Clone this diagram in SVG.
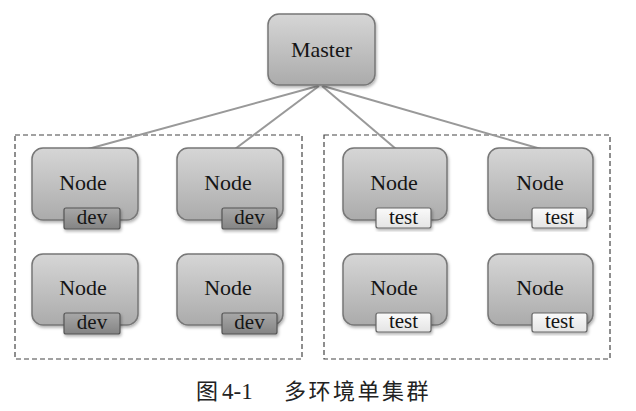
<svg xmlns="http://www.w3.org/2000/svg" width="636" height="411" viewBox="0 0 636 411">
  <defs>
    <linearGradient id="gBody" x1="0" y1="0" x2="0" y2="1">
      <stop offset="0" stop-color="#d6d6d6"/>
      <stop offset="1" stop-color="#ababab"/>
    </linearGradient>
    <linearGradient id="gDev" x1="0" y1="0" x2="0" y2="1">
      <stop offset="0" stop-color="#a8a8a8"/>
      <stop offset="1" stop-color="#848484"/>
    </linearGradient>
    <linearGradient id="gTest" x1="0" y1="0" x2="0" y2="1">
      <stop offset="0" stop-color="#fafafa"/>
      <stop offset="1" stop-color="#e4e4e4"/>
    </linearGradient>
    <filter id="shadow" x="-10%" y="-10%" width="130%" height="130%">
      <feDropShadow dx="1" dy="2" stdDeviation="1.5" flood-color="#000" flood-opacity="0.3"/>
    </filter>
  </defs>
  <style>
    .body { fill: url(#gBody); stroke: #777; stroke-width: 1.5; filter: url(#shadow); }
    .dev { fill: url(#gDev); stroke: #555; stroke-width: 1.2; filter: url(#shadow); }
    .test { fill: url(#gTest); stroke: #666; stroke-width: 1.2; filter: url(#shadow); }
    .lbl { font-family: 'Liberation Serif', 'DejaVu Serif', serif; font-size: 22px; fill: #151515; text-anchor: middle; }
    .tag { font-family: 'Liberation Serif', 'DejaVu Serif', serif; font-size: 21px; fill: #151515; text-anchor: middle; }
    .group { fill: none; stroke: #444; stroke-width: 1.2; stroke-dasharray: 5 3; }
    .conn { fill: none; stroke: #999; stroke-width: 2; }
    .cap { font-family: 'Liberation Serif', 'Noto Sans CJK SC', serif; font-size: 22px; fill: #222; }
  </style>

  <rect id="group-dev" class="group" x="15" y="135" width="287" height="224"/>
  <rect id="group-test" class="group" x="324" y="135" width="286" height="224"/>

  <g id="connectors">
    <line class="conn" x1="318" y1="86" x2="88" y2="149"/>
    <line class="conn" x1="319" y1="86" x2="235" y2="149"/>
    <line class="conn" x1="322" y1="86" x2="396" y2="149"/>
    <line class="conn" x1="323" y1="86" x2="541" y2="149"/>
  </g>

  <g id="master">
    <rect class="body" x="268" y="14" width="107" height="71" rx="11"/>
    <text class="lbl" x="321.5" y="57">Master</text>
  </g>

  <g id="node-dev-1">
    <rect class="body" x="32" y="148" width="106" height="72" rx="11"/>
    <text class="lbl" x="83" y="190">Node</text>
    <rect class="dev" x="64" y="208" width="56" height="21" rx="2"/>
    <text class="tag" x="92" y="224">dev</text>
  </g>
  <g id="node-dev-2">
    <rect class="body" x="177" y="148" width="106" height="72" rx="11"/>
    <text class="lbl" x="228" y="190">Node</text>
    <rect class="dev" x="222" y="208" width="55" height="21" rx="2"/>
    <text class="tag" x="249.5" y="224">dev</text>
  </g>
  <g id="node-dev-3">
    <rect class="body" x="32" y="254" width="106" height="71" rx="11"/>
    <text class="lbl" x="83" y="295">Node</text>
    <rect class="dev" x="64" y="313" width="56" height="21" rx="2"/>
    <text class="tag" x="92" y="329">dev</text>
  </g>
  <g id="node-dev-4">
    <rect class="body" x="177" y="254" width="106" height="71" rx="11"/>
    <text class="lbl" x="228" y="295">Node</text>
    <rect class="dev" x="222" y="313" width="55" height="21" rx="2"/>
    <text class="tag" x="249.5" y="329">dev</text>
  </g>

  <g id="node-test-1">
    <rect class="body" x="343" y="148" width="104" height="72" rx="11"/>
    <text class="lbl" x="394" y="190">Node</text>
    <rect class="test" x="376" y="208" width="55" height="20" rx="2"/>
    <text class="tag" x="403.5" y="224">test</text>
  </g>
  <g id="node-test-2">
    <rect class="body" x="488" y="148" width="105" height="72" rx="11"/>
    <text class="lbl" x="540" y="190">Node</text>
    <rect class="test" x="532" y="208" width="55" height="20" rx="2"/>
    <text class="tag" x="559.5" y="224">test</text>
  </g>
  <g id="node-test-3">
    <rect class="body" x="343" y="254" width="104" height="71" rx="11"/>
    <text class="lbl" x="394" y="295">Node</text>
    <rect class="test" x="376" y="313" width="55" height="19" rx="2"/>
    <text class="tag" x="403.5" y="328">test</text>
  </g>
  <g id="node-test-4">
    <rect class="body" x="488" y="254" width="105" height="71" rx="11"/>
    <text class="lbl" x="540" y="295">Node</text>
    <rect class="test" x="532" y="313" width="55" height="19" rx="2"/>
    <text class="tag" x="559.5" y="328">test</text>
  </g>

  <text class="cap" y="399"><tspan x="196">图</tspan><tspan x="222" font-size="23">4-1</tspan><tspan x="284" letter-spacing="2.5">多环境单集群</tspan></text>
</svg>
